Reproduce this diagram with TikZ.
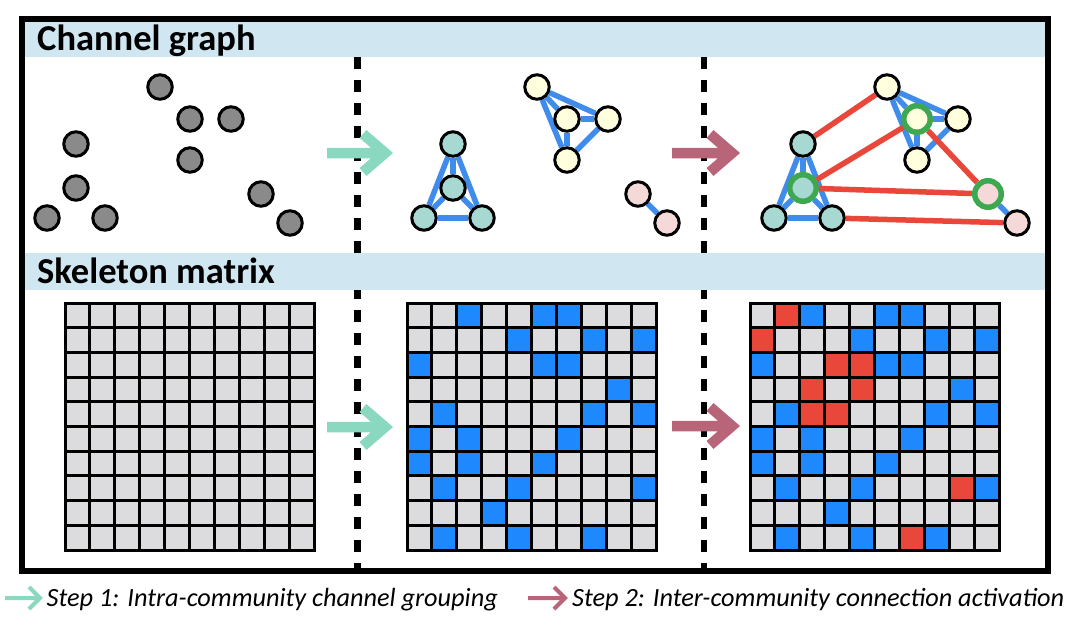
\documentclass[tikz,border=0pt]{standalone}
\usepackage{fontspec}
\setmainfont{Carlito}
\usetikzlibrary{positioning,backgrounds}

\definecolor{hdrblue}{HTML}{D0E7F1}
\definecolor{cellgray}{HTML}{DCDCDE}
\definecolor{cellblue}{HTML}{1E88FF}
\definecolor{cellred}{HTML}{E8473A}
\definecolor{stepgreen}{HTML}{8AD8C0}
\definecolor{steppink}{HTML}{B8657A}
\definecolor{nodegray}{HTML}{8A8A8A}
\definecolor{nodeteal}{HTML}{A8D8D2}
\definecolor{nodeyellow}{HTML}{FFFEDD}
\definecolor{nodepink}{HTML}{F5D8D8}
\definecolor{edgeblue}{HTML}{3F8CEB}
\definecolor{edgered}{HTML}{E8473A}
\definecolor{ringgreen}{HTML}{3DA850}
% cell colours of the three matrices
\colorlet{gcol0}{cellgray}\colorlet{gcol1}{cellgray}\colorlet{gcol2}{cellgray}
\colorlet{pcol0}{cellgray}\colorlet{pcol1}{cellblue}\colorlet{pcol2}{cellgray}
\colorlet{mcol0}{cellgray}\colorlet{mcol1}{cellblue}\colorlet{mcol2}{cellred}

\begin{document}
\begin{tikzpicture}[x=1pt,y=-1pt,
        ch node/.style={circle, draw, line width=3pt, inner sep=0pt, minimum size=24.5pt},
        hub node/.style={draw=ringgreen, line width=5.5pt, minimum size=26.5pt},
        hub a/.style={}, hub b/.style={}, hub c/.style={hub node},
        intra/.style={draw=edgeblue, line width=5.5pt},
        inter/.style={draw=edgered, line width=5.5pt},
        cell/.style={draw=black, line width=3pt},
        stepone/.style={draw=stepgreen, line width=10.5pt, line join=miter},
        steptwo/.style={draw=steppink, line width=10.5pt, line join=miter},
        heading/.style={anchor=base west, inner sep=0pt, font=\fontsize{36.5}{40}\selectfont\bfseries},
        legend/.style={anchor=base west, inner sep=0pt, font=\fontsize{26.3}{30}\selectfont\itshape}
        ]
        \useasboundingbox (0,0) rectangle (1080,625);

        % dividers, header bars, frame
        \draw[line width=6.3pt, dash pattern=on 12pt off 11pt] (357.5,57) -- (357.5,569);
        \draw[line width=6.3pt, dash pattern=on 12pt off 11pt] (704,57) -- (704,569);
        \fill[hdrblue] (24,21.5) rectangle (1045,57);
        \fill[hdrblue] (24,253) rectangle (1045,289.5);
        \draw[line width=6pt] (21.5,18.5) rectangle (1048,571);

        \node[heading] (title-graph) at (37,50.5) {Channel graph};
        \node[heading] (title-matrix) at (37,283) {Skeleton matrix};

        % channel graphs
        \foreach \gx/\gi/\ca/\cb/\cc in {0/a/nodegray/nodegray/nodegray,
                377/b/nodeteal/nodeyellow/nodepink, 727/c/nodeteal/nodeyellow/nodepink}{
            \begin{scope}[shift={(\gx,0)}]
                \node[ch node, fill=\ca] (\gi-t1) at (76,144) {};
                \node[ch node, fill=\ca, hub \gi] (\gi-t2) at (76,188) {};
                \node[ch node, fill=\ca] (\gi-t3) at (47,218) {};
                \node[ch node, fill=\ca] (\gi-t4) at (105,218) {};
                \node[ch node, fill=\cb] (\gi-y1) at (160,87) {};
                \node[ch node, fill=\cb, hub \gi] (\gi-y2) at (190,119) {};
                \node[ch node, fill=\cb] (\gi-y3) at (231,119) {};
                \node[ch node, fill=\cb] (\gi-y4) at (190,160) {};
                \node[ch node, fill=\cc, hub \gi] (\gi-p1) at (261,194) {};
                \node[ch node, fill=\cc] (\gi-p2) at (290,223) {};
            \end{scope}
        }

        \begin{scope}[on background layer]
            \foreach \gi in {b,c}
                \path[intra]
                (\gi-t1) edge (\gi-t2) edge (\gi-t3) edge (\gi-t4)
                (\gi-t2) edge (\gi-t3) edge (\gi-t4)
                (\gi-t3) edge (\gi-t4)
                (\gi-y1) edge (\gi-y2) edge (\gi-y3) edge (\gi-y4)
                (\gi-y2) edge (\gi-y3) edge (\gi-y4)
                (\gi-y3) edge (\gi-y4)
                (\gi-p1) edge (\gi-p2);
            \path[inter]
            (c-t1) edge (c-y1)
            (c-t2) edge (c-y2) edge (c-p1)
            (c-y2) edge (c-p1)
            (c-t4) edge (c-p2);
        \end{scope}

        % skeleton matrices
        \foreach \mx/\pre in {65/gcol, 407/pcol, 750/mcol}{
            \foreach \row [count=\r from 0] in {{0,2,1,0,0,1,1,0,0,0},{2,0,0,0,1,0,0,1,0,1},
                    {1,0,0,2,2,1,1,0,0,0},{0,0,2,0,2,0,0,0,1,0},{0,1,2,2,0,0,0,1,0,1},
                    {1,0,1,0,0,0,1,0,0,0},{1,0,1,0,0,1,0,0,0,0},{0,1,0,0,1,0,0,0,2,1},
                    {0,0,0,1,0,0,0,0,0,0},{0,1,0,0,1,0,2,1,0,0}}{
                \foreach \v [count=\c from 0] in \row
                    \filldraw[cell, fill=\pre\v] (\mx+\c*24.9,303+\r*24.7) rectangle ++(24.9,24.7);
            }
        }

        % step arrows
        \coordinate (s1a) at (327,153);  \coordinate (s1b) at (385,153);
        \coordinate (s1c) at (327,427);  \coordinate (s1d) at (385,427);
        \coordinate (s2a) at (672,153);  \coordinate (s2b) at (732,153);
        \coordinate (s2c) at (672,426);  \coordinate (s2d) at (732,426);
        \draw[stepone] (s1a) -- (s1b) ++(-22,-19) -- (s1b) -- ++(-22,19);
        \draw[stepone] (s1c) -- (s1d) ++(-22,-19) -- (s1d) -- ++(-22,19);
        \draw[steptwo] (s2a) -- (s2b) ++(-22,-19) -- (s2b) -- ++(-22,19);
        \draw[steptwo] (s2c) -- (s2d) ++(-22,-19) -- (s2d) -- ++(-22,19);

        % legend
        \coordinate (l1a) at (5,598);  \coordinate (l1b) at (40,598);
        \coordinate (l2a) at (528,598);  \coordinate (l2b) at (565,598);
        \draw[stepgreen, line width=4pt, line join=miter] (l1a) -- (l1b) ++(-11,-11) -- (l1b) -- ++(-11,11);
        \draw[steppink, line width=4pt, line join=miter] (l2a) -- (l2b) ++(-11,-11) -- (l2b) -- ++(-11,11);
        \node[legend] (legend-one) at (46.5,606.5) {Step 1: Intra-community channel grouping};
        \node[legend] (legend-two) at (572,606.5) {Step 2: Inter-community connection activation};
     \end{tikzpicture}
\end{document}
